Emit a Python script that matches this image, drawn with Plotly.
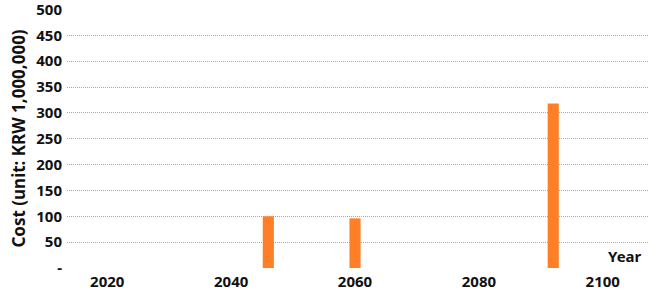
import plotly.graph_objects as go

years = [2046, 2060, 2092]
costs = [100, 96, 318]

y_ticks = [0, 50, 100, 150, 200, 250, 300, 350, 400, 450, 500]
y_labels = ["-", "50", "100", "150", "200", "250", "300", "350", "400", "450", "500"]
x_ticks = [2020, 2040, 2060, 2080, 2100]

bold = dict(family="Noto Sans", size=15, color="#111111", weight="bold")

fig = go.Figure()
fig.add_trace(go.Bar(x=years, y=costs, width=1.8, marker=dict(color="#FF7F27", line=dict(width=0)),
                     showlegend=False))

fig.update_layout(
    width=651, height=303,
    margin=dict(l=67, r=3, t=9, b=35),
    plot_bgcolor="white", paper_bgcolor="white",
    xaxis=dict(range=[2013.5, 2107.3], tickvals=x_ticks, ticktext=[str(v) for v in x_ticks],
               showgrid=False, zeroline=False, showline=False, tickfont=bold, ticks="",
               ticklabelstandoff=3, automargin=False),
    yaxis=dict(range=[0, 501], tickvals=y_ticks, ticktext=y_labels, showgrid=True,
               gridcolor="#a8a8a8", griddash="1px,1px", gridwidth=1, zeroline=False,
               tickfont=bold, ticks="", ticklabelstandoff=4, automargin=False,
               ticklabeloverflow="allow",
               title=dict(text="Cost (unit: KRW 1,000,000)", font=dict(family="Noto Sans", size=17,
                                                                         color="#111111", weight="bold"),
                          standoff=6)),
    annotations=[dict(text="Year", x=1, y=0, xref="paper", yref="paper", xanchor="right", yanchor="bottom",
                      showarrow=False, font=bold, yshift=0, xshift=-4)],
)

# page body has a default 8px margin, drop it so the figure fills the window
fig.write_html("out.html", config={"displayModeBar": False},
               post_script="document.body.style.margin='0';")
